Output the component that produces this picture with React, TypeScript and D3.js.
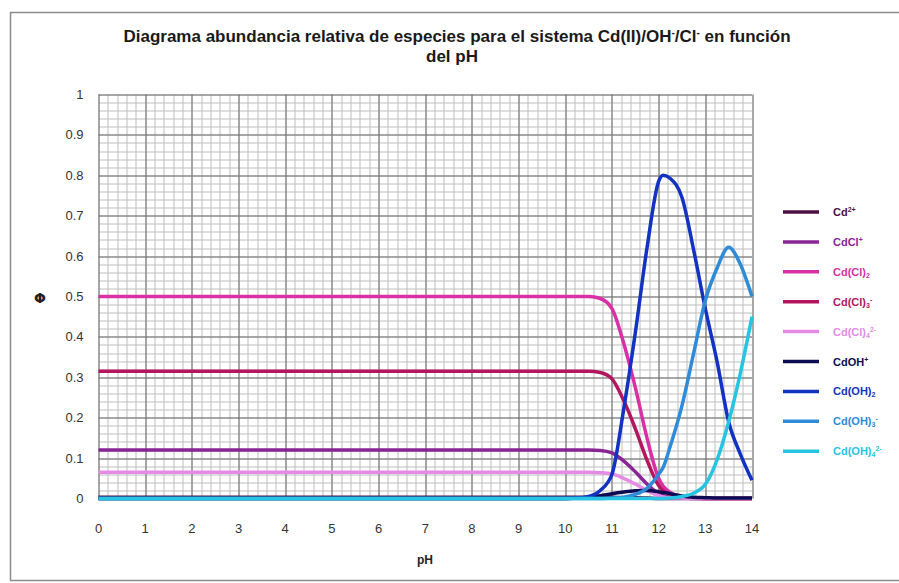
import React, { useRef, useEffect } from "react";
import * as d3 from "d3";

// pH sample points (denser where the curves move)
const phValues = [0, 1, 2, 3, 4, 5, 6, 7, 8, 9, 10, 10.25, 10.5, 10.75, 11, 11.25, 11.5, 11.75, 12, 12.1, 12.25, 12.5, 12.75, 13, 13.25, 13.5, 13.75, 14];

// relative abundance
const cd2 = [0.003, 0.003, 0.003, 0.003, 0.003, 0.003, 0.003, 0.003, 0.003, 0.003, 0.003, 0.003, 0.003, 0.003, 0.003, 0.002, 0.002, 0.001, 0, 0, 0, 0, 0, 0, 0, 0, 0, 0];
const cdCl = [0.12, 0.12, 0.12, 0.12, 0.12, 0.12, 0.12, 0.12, 0.12, 0.12, 0.12, 0.12, 0.12, 0.119, 0.113, 0.093, 0.066, 0.036, 0.012, 0.007, 0.004, 0.001, 0, 0, 0, 0, 0, 0];
const cdCl2 = [0.5, 0.5, 0.5, 0.5, 0.5, 0.5, 0.5, 0.5, 0.5, 0.5, 0.5, 0.5, 0.5, 0.495, 0.47, 0.385, 0.275, 0.15, 0.05, 0.03, 0.015, 0.004, 0.001, 0, 0, 0, 0, 0];
const cdCl3 = [0.315, 0.315, 0.315, 0.315, 0.315, 0.315, 0.315, 0.315, 0.315, 0.315, 0.315, 0.315, 0.315, 0.312, 0.296, 0.243, 0.173, 0.095, 0.032, 0.019, 0.009, 0.003, 0.001, 0, 0, 0, 0, 0];
const cdCl4 = [0.065, 0.065, 0.065, 0.065, 0.065, 0.065, 0.065, 0.065, 0.065, 0.065, 0.065, 0.065, 0.065, 0.064, 0.061, 0.05, 0.036, 0.02, 0.007, 0.004, 0.002, 0.001, 0, 0, 0, 0, 0, 0];
const cdOH = [0, 0, 0, 0, 0, 0, 0, 0, 0, 0, 0, 0.001, 0.003, 0.007, 0.012, 0.016, 0.019, 0.02, 0.017, 0.015, 0.012, 0.006, 0.003, 0.002, 0.001, 0.001, 0.001, 0.001];
const cdOH2 = [0, 0, 0, 0, 0, 0, 0, 0, 0, 0, 0, 0.001, 0.005, 0.02, 0.06, 0.22, 0.41, 0.62, 0.785, 0.8, 0.792, 0.745, 0.615, 0.47, 0.34, 0.19, 0.11, 0.045];
const cdOH3 = [0, 0, 0, 0, 0, 0, 0, 0, 0, 0, 0, 0, 0, 0, 0.001, 0.003, 0.01, 0.025, 0.06, 0.078, 0.13, 0.23, 0.36, 0.49, 0.57, 0.622, 0.58, 0.5];
const cdOH4 = [0, 0, 0, 0, 0, 0, 0, 0, 0, 0, 0, 0, 0, 0, 0, 0, 0, 0, 0, 0, 0.001, 0.005, 0.013, 0.035, 0.095, 0.19, 0.31, 0.45];

const xTicks = d3.range(0, 15);
const yTicks = [0, 0.1, 0.2, 0.3, 0.4, 0.5, 0.6, 0.7, 0.8, 0.9, 1];

// label pieces: [text, "" | "sup" | "sub"]
const series = [
  { values: cd2, color: "#4b0f45", label: [["Cd", ""], ["2+", "sup"]] },
  { values: cdCl, color: "#8a2596", label: [["CdCl", ""], ["+", "sup"]] },
  { values: cdCl2, color: "#d930a6", label: [["Cd(Cl)", ""], ["2", "sub"]] },
  { values: cdCl3, color: "#b3155f", label: [["Cd(Cl)", ""], ["3", "sub"], ["-", "sup"]] },
  { values: cdCl4, color: "#e58be6", label: [["Cd(Cl)", ""], ["4", "sub"], ["2-", "sup"]] },
  { values: cdOH, color: "#0c0c52", label: [["CdOH", ""], ["+", "sup"]] },
  { values: cdOH2, color: "#1232c2", label: [["Cd(OH)", ""], ["2", "sub"]] },
  { values: cdOH3, color: "#2f8ad8", label: [["Cd(OH)", ""], ["3", "sub"], ["-", "sup"]] },
  { values: cdOH4, color: "#26c4e2", label: [["Cd(OH)", ""], ["4", "sub"], ["2-", "sup"]] },
];

const FONT = "'Liberation Sans Narrow', 'Liberation Sans', Arial, sans-serif";

function SpeciesChart() {
  const ref = useRef<SVGSVGElement>(null);

  useEffect(() => {
    draw();
  }, []);

  const draw = () => {
    const svg = d3.select(ref.current);
    svg.selectAll("*").remove();

    const margin = { top: 94.5, left: 98.5 };
    const width = 653.5;
    const height = 404;

    const x = d3.scaleLinear().domain([0, 14]).range([0, width]);
    const y = d3.scaleLinear().domain([0, 1]).range([height, 0]);

    // outer frame
    svg.append("rect")
      .attr("x", 10.5).attr("y", 12.5)
      .attr("width", 900).attr("height", 568)
      .attr("fill", "white").attr("stroke", "#8c8c8c").attr("stroke-width", 1.5);

    // title
    const title = svg.append("text")
      .attr("x", 457).attr("y", 42)
      .attr("text-anchor", "middle")
      .attr("font-family", FONT).attr("font-weight", "bold")
      .attr("font-size", 17).attr("fill", "#1a1a1a");
    title.append("tspan").text("Diagrama abundancia relativa de especies para el sistema Cd(II)/OH");
    title.append("tspan").attr("dy", -6).attr("font-size", 10).text("-");
    title.append("tspan").attr("dy", 6).text("/Cl");
    title.append("tspan").attr("dy", -6).attr("font-size", 10).text("-");
    title.append("tspan").attr("dy", 6).text(" en función");
    svg.append("text")
      .attr("x", 452).attr("y", 62)
      .attr("text-anchor", "middle")
      .attr("font-family", FONT).attr("font-weight", "bold")
      .attr("font-size", 17).attr("fill", "#1a1a1a")
      .text("del pH");

    const g = svg.append("g").attr("transform", "translate(" + margin.left + "," + margin.top + ")");

    // minor grid
    const minorX = d3.range(0, 14.001, 0.2);
    const minorY = d3.range(0, 1.0001, 0.02);
    g.append("g").selectAll("line").data(minorX).enter().append("line")
      .attr("x1", (d) => Math.round(x(d)) + 0.5).attr("x2", (d) => Math.round(x(d)) + 0.5)
      .attr("y1", 0).attr("y2", height)
      .attr("stroke", "#bdbdbd").attr("stroke-width", 1);
    g.append("g").selectAll("line").data(minorY).enter().append("line")
      .attr("y1", (d) => Math.round(y(d)) + 0.5).attr("y2", (d) => Math.round(y(d)) + 0.5)
      .attr("x1", 0).attr("x2", width)
      .attr("stroke", "#bdbdbd").attr("stroke-width", 1);

    // major grid
    g.append("g").selectAll("line").data(xTicks).enter().append("line")
      .attr("x1", (d) => Math.round(x(d)) + 0.5).attr("x2", (d) => Math.round(x(d)) + 0.5)
      .attr("y1", 0).attr("y2", height)
      .attr("stroke", "#6e6e6e").attr("stroke-width", 1);
    g.append("g").selectAll("line").data(yTicks).enter().append("line")
      .attr("y1", (d) => Math.round(y(d)) + 0.5).attr("y2", (d) => Math.round(y(d)) + 0.5)
      .attr("x1", 0).attr("x2", width)
      .attr("stroke", "#6e6e6e").attr("stroke-width", 1);

    // tick labels
    g.append("g").selectAll("text").data(xTicks).enter().append("text")
      .attr("x", (d) => x(d)).attr("y", height + 34)
      .attr("text-anchor", "middle")
      .attr("font-family", FONT).attr("font-size", 13).attr("fill", "#333")
      .text((d) => d);
    g.append("g").selectAll("text").data(yTicks).enter().append("text")
      .attr("x", -15).attr("y", (d) => y(d)).attr("dy", "0.35em")
      .attr("text-anchor", "end")
      .attr("font-family", FONT).attr("font-size", 13).attr("fill", "#333")
      .text((d) => d3.format("~g")(d));

    // axis titles
    svg.append("text")
      .attr("x", 425).attr("y", 564)
      .attr("text-anchor", "middle")
      .attr("font-family", FONT).attr("font-weight", "bold").attr("font-size", 12).attr("fill", "#222")
      .text("pH");
    svg.append("text")
      .attr("x", 40).attr("y", 298).attr("dy", "0.35em")
      .attr("text-anchor", "middle")
      .attr("font-family", "'DejaVu Sans', sans-serif").attr("font-weight", "bold").attr("font-size", 14).attr("fill", "#222")
      .text("Φ");

    // lines
    const line = d3.line<number>()
      .x((d, i) => x(phValues[i]))
      .y((d) => y(d))
      .curve(d3.curveMonotoneX);

    series.forEach((s) => {
      g.append("path")
        .attr("d", line(s.values))
        .attr("fill", "none")
        .attr("stroke", s.color)
        .attr("stroke-width", 3.5)
        .attr("stroke-linejoin", "round");
    });

    // legend
    const legend = svg.append("g");
    series.forEach((s, i) => {
      const ly = 212 + i * 29.9;
      legend.append("line")
        .attr("x1", 783).attr("x2", 819)
        .attr("y1", ly).attr("y2", ly)
        .attr("stroke", s.color).attr("stroke-width", 3.5);
      const t = legend.append("text")
        .attr("x", 833).attr("y", ly + 4)
        .attr("font-family", FONT).attr("font-weight", "bold")
        .attr("font-size", 11).attr("fill", s.color);
      let shift = 0;
      s.label.forEach(([txt, kind]) => {
        const target = kind === "sup" ? -4 : kind === "sub" ? 2 : 0;
        t.append("tspan")
          .attr("dy", target - shift)
          .attr("font-size", kind === "" ? 11 : 7)
          .text(txt);
        shift = target;
      });
    });
  };

  return <svg ref={ref} width={899} height={583} style={{ position: "absolute", left: 0, top: 0 }}></svg>;
}

export default function App() {
  return <SpeciesChart />;
}
